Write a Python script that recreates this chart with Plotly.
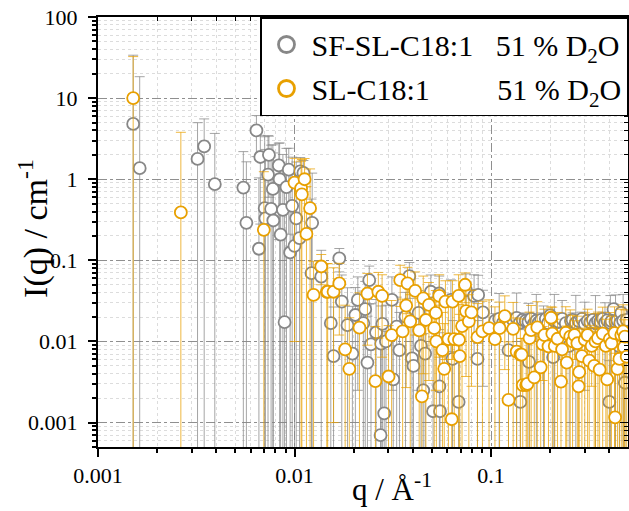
import plotly.graph_objects as go

# ---- data ----
gray_q = [0.00151, 0.00163, 0.00321, 0.00347, 0.00393, 0.00549, 0.00569, 0.0064, 0.00659, 0.0067,
          0.00705, 0.00711, 0.00733, 0.00741, 0.0076, 0.00776, 0.0078, 0.00832, 0.0084, 0.0085,
          0.00873, 0.0089, 0.0091, 0.00935, 0.0095, 0.00973, 0.0100, 0.0102, 0.0106, 0.0107,
          0.0111, 0.0122, 0.0123, 0.01368, 0.0153, 0.0158, 0.0169, 0.0174, 0.0186, 0.0197,
          0.0204, 0.0210, 0.0224, 0.0229, 0.0235, 0.0240, 0.0245, 0.0260, 0.0274, 0.0276,
          0.0280, 0.0286, 0.0292, 0.0313, 0.0318, 0.0331, 0.0342, 0.0367, 0.0384, 0.0396,
          0.0403, 0.0428, 0.0440, 0.0452, 0.0462, 0.0494, 0.0507, 0.0545, 0.0546, 0.0550,
          0.0625, 0.0637, 0.0684, 0.0746, 0.0820, 0.0853, 0.0860, 0.0910,
          0.105, 0.110, 0.115, 0.120, 0.1227, 0.125, 0.130, 0.135, 0.140, 0.141, 0.145, 0.150,
          0.155, 0.156, 0.160, 0.165, 0.170, 0.175, 0.180, 0.185, 0.190, 0.195, 0.200, 0.207,
          0.210, 0.220, 0.230, 0.240, 0.250, 0.255, 0.260, 0.270, 0.280, 0.290, 0.300, 0.310,
          0.320, 0.330, 0.340, 0.350, 0.360, 0.370, 0.380, 0.390, 0.400, 0.405, 0.410, 0.420,
          0.430, 0.440, 0.450, 0.455, 0.460, 0.470, 0.480, 0.490]
gray_I = [4.8, 1.37, 1.78, 2.54, 0.87, 0.79, 0.29, 4.0, 0.139, 1.88,
          0.44, 0.33, 1.14, 2.0, 0.43, 0.76, 0.31, 1.48, 1.0, 0.207,
          0.42, 0.0173, 0.80, 1.31, 0.125, 0.47, 0.151, 0.33, 0.188, 1.25,
          1.2, 0.0695, 0.29, 0.063, 0.0168, 0.0066, 0.106, 0.031, 0.0159, 0.0071,
          0.0212, 0.0325, 0.0168, 0.025, 0.0055, 0.057, 0.0092, 0.0129, 0.0007, 0.0094,
          0.0165, 0.0013, 0.0100, 0.0325, 0.0034, 0.0152, 0.0078, 0.0203, 0.064, 0.0062,
          0.0050, 0.0225, 0.0088, 0.0025, 0.0071, 0.041, 0.00138, 0.039, 0.0028, 0.00138,
          0.0325, 0.0061, 0.0018, 0.043, 0.0364, 0.0061, 0.0375, 0.0228,
          0.018, 0.019, 0.017, 0.0185, 0.0078, 0.0165, 0.018, 0.0195, 0.017, 0.0018, 0.0185, 0.018,
          0.0175, 0.0056, 0.019, 0.0165, 0.018, 0.0172, 0.0185, 0.0134, 0.019, 0.0168, 0.021, 0.0064,
          0.018, 0.0175, 0.019, 0.0168, 0.0088, 0.018, 0.0185, 0.017, 0.0178, 0.019, 0.0165, 0.018,
          0.0172, 0.0185, 0.0168, 0.018, 0.0175, 0.019, 0.017, 0.0182, 0.0018, 0.0168, 0.0178, 0.025,
          0.0175, 0.0182, 0.0087, 0.017, 0.0225, 0.018, 0.0031, 0.0185]
gray_err = [29, 17, 3.2, 3.0, 2.8, 1.4, 1.35, 2.1, 0.9, 1.6,
            2.9, 2.0, 2.3, 1.4, 2.2, 1.9, 1.8, 1.3, 1.8, 1.2,
            1.6, 0.9, 1.6, 1.1, 1.2, 1.4, 1.0, 1.3, 1.1, 0.6,
            0.5, 0.5, 0.9, 0.07, 0.03, 0.02, 0.034, 0.035, 0.03, 0.02,
            0.025, 0.03, 0.025, 0.03, 0.015, 0.028, 0.02, 0.02, 0.01, 0.018,
            0.02, 0.012, 0.018, 0.03, 0.012, 0.02, 0.015, 0.02, 0.03, 0.014,
            0.014, 0.02, 0.015, 0.01, 0.014, 0.025, 0.01, 0.025, 0.01, 0.01,
            0.025, 0.012, 0.01, 0.025, 0.03, 0.012, 0.028, 0.02,
            0.004, 0.02, 0.003, 0.004, 0.01, 0.003, 0.004, 0.02, 0.003, 0.006, 0.004, 0.003,
            0.012, 0.008, 0.003, 0.004, 0.02, 0.003, 0.004, 0.014, 0.003, 0.004, 0.004, 0.008,
            0.02, 0.003, 0.013, 0.004, 0.01, 0.003, 0.004, 0.02, 0.003, 0.004, 0.014, 0.003,
            0.004, 0.003, 0.02, 0.004, 0.003, 0.004, 0.013, 0.003, 0.004, 0.02, 0.003, 0.004,
            0.02, 0.003, 0.01, 0.004, 0.004, 0.02, 0.005, 0.003]

orange_q = [0.00151, 0.00264, 0.00698, 0.0100, 0.0108, 0.0109, 0.01125, 0.0115, 0.0120, 0.0125,
            0.01368, 0.0146, 0.01475, 0.0158, 0.0169, 0.0181, 0.0190, 0.0214, 0.0235, 0.0258,
            0.0267, 0.0279, 0.0301, 0.0312, 0.0345, 0.0355, 0.0370, 0.0376, 0.0388, 0.0411,
            0.0431, 0.0445, 0.0452, 0.0466, 0.0483, 0.0514, 0.0524, 0.0527, 0.0545, 0.0566,
            0.0578, 0.0586, 0.0607, 0.0631, 0.0637, 0.0650, 0.0684, 0.0687, 0.0693, 0.0712,
            0.0738, 0.0746, 0.0771, 0.0795, 0.0853, 0.0904, 0.0977, 0.1047, 0.1105, 0.1175,
            0.1227, 0.1296, 0.135, 0.141, 0.143, 0.145, 0.151, 0.153, 0.157, 0.160,
            0.166, 0.172, 0.179, 0.183, 0.187, 0.196, 0.202, 0.205, 0.211, 0.218,
            0.227, 0.230, 0.240, 0.243, 0.253, 0.260, 0.266, 0.275, 0.279, 0.281,
            0.290, 0.300, 0.310, 0.316, 0.325, 0.335, 0.340, 0.350, 0.357, 0.370,
            0.384, 0.390, 0.402, 0.410, 0.425, 0.428, 0.440, 0.450, 0.460, 0.470,
            0.475, 0.480, 0.490]
orange_I = [10.0, 0.39, 0.238, 0.91, 0.77, 0.65, 1.0, 0.212, 0.44, 0.0375,
            0.084, 0.041, 0.041, 0.041, 0.052, 0.008, 0.0046, 0.0148, 0.039, 0.00325,
            0.041, 0.0364, 0.0037, 0.012, 0.057, 0.0133, 0.0277, 0.052, 0.0177, 0.042,
            0.0137, 0.0021, 0.034, 0.0184, 0.0283, 0.0146, 0.0225, 0.010, 0.0364, 0.0078,
            0.0046, 0.031, 0.0107, 0.0011, 0.031, 0.0107, 0.0364, 0.0105, 0.0066, 0.0155,
            0.050, 0.0237, 0.0177, 0.0228, 0.0113, 0.0133, 0.0146, 0.0107, 0.0146, 0.0205,
            0.0019, 0.0143, 0.0075, 0.0069, 0.0069, 0.0029, 0.0029, 0.0030, 0.011, 0.0138,
            0.0036, 0.0149, 0.0048, 0.0093, 0.012, 0.0087, 0.0196, 0.0125, 0.0088, 0.0108,
            0.0032, 0.0080, 0.0128, 0.0055, 0.0115, 0.0100, 0.012, 0.0095, 0.0028, 0.0042,
            0.0066, 0.0105, 0.012, 0.0058, 0.0088, 0.0050, 0.010, 0.011, 0.0045, 0.0125,
            0.0088, 0.0034, 0.0107, 0.0095, 0.0127, 0.00116, 0.0046, 0.0061, 0.012, 0.0133,
            0.0085, 0.0115, 0.0065]
orange_err = [22.5, 3.4, 1.0, 0.9, 0.9, 1.1, 0.8, 0.6, 0.9, 0.06,
              0.034, 0.05, 0.05, 0.04, 0.04, 0.02, 0.015, 0.025, 0.03, 0.012,
              0.03, 0.03, 0.012, 0.02, 0.03, 0.02, 0.025, 0.03, 0.02, 0.03,
              0.02, 0.01, 0.03, 0.02, 0.025, 0.02, 0.02, 0.018, 0.03, 0.015,
              0.012, 0.025, 0.018, 0.008, 0.025, 0.018, 0.03, 0.018, 0.015, 0.02,
              0.02, 0.02, 0.02, 0.02, 0.018, 0.018, 0.018, 0.016, 0.016, 0.016,
              0.008, 0.016, 0.012, 0.012, 0.004, 0.008, 0.008, 0.008, 0.012, 0.014,
              0.008, 0.016, 0.01, 0.006, 0.013, 0.01, 0.007, 0.014, 0.01, 0.012,
              0.008, 0.005, 0.014, 0.01, 0.013, 0.011, 0.006, 0.011, 0.008, 0.01,
              0.008, 0.012, 0.013, 0.01, 0.006, 0.01, 0.012, 0.012, 0.01, 0.014,
              0.01, 0.01, 0.012, 0.011, 0.014, 0.006, 0.01, 0.008, 0.013, 0.015,
              0.01, 0.013, 0.008]

NB = "\u00a0"
series_names = ["SF-SL-C18:1" + NB * 3 + "51 % D<sub>2</sub>O",
                "SL-C18:1" + NB * 9 + "51 % D<sub>2</sub>O"]
x_title = "q / Å<sup>-1</sup>"
y_title = "I(q) / cm<sup>-1</sup>"
x_tick_vals = [0.001, 0.01, 0.1]
x_tick_text = ["0.001", "0.01", "0.1"]
y_tick_vals = [0.001, 0.01, 0.1, 1, 10, 100]
y_tick_text = ["0.001", "0.01", "0.1", "1", "10", "100"]

GRAY = "#878787"
ORANGE = "#E8A000"
FONT = "Liberation Serif"

fig = go.Figure()

fig.add_trace(go.Scatter(
    x=gray_q, y=gray_I, mode="markers", showlegend=False,
    marker=dict(symbol="circle", size=12, color="white", line=dict(color=GRAY, width=1.8)),
    error_y=dict(type="data", array=gray_err, visible=True, color="rgba(135,135,135,0.75)",
                 thickness=1, width=5),
))
fig.add_trace(go.Scatter(
    x=orange_q, y=orange_I, mode="markers", showlegend=False,
    marker=dict(symbol="circle", size=12, color="white", line=dict(color=ORANGE, width=1.8)),
    error_y=dict(type="data", array=orange_err, visible=True, color="rgba(232,160,0,0.75)",
                 thickness=1, width=5),
))
# legend entries
fig.add_trace(go.Scatter(x=[None], y=[None], mode="markers", name=series_names[0],
                         legendgroup="a",
                         marker=dict(symbol="circle", size=16, color="white",
                                     line=dict(color=GRAY, width=2.8))))
fig.add_trace(go.Scatter(x=[None], y=[None], mode="markers", name=series_names[1],
                         legendgroup="b",
                         marker=dict(symbol="circle", size=16, color="white",
                                     line=dict(color=ORANGE, width=2.8))))
# mirrored axes (ticks inside on top/right)
fig.add_trace(go.Scatter(x=[None], y=[None], xaxis="x2", yaxis="y2", showlegend=False,
                         hoverinfo="skip"))

xr = [-3, -0.303]
yr = [-3.301, 2]

common = dict(type="log", showline=True, linecolor="black", linewidth=2, automargin=False,
              ticks="outside", ticklen=8, tickwidth=1.5, tickcolor="black",
              tickfont=dict(family=FONT, size=22, color="black"),
              showgrid=True, gridcolor="#8f8f8f", gridwidth=1, griddash="dashdot",
              zeroline=False)

fig.update_layout(
    template="none",
    width=629, height=511,
    margin=dict(l=98, r=1, t=17, b=64),
    paper_bgcolor="white", plot_bgcolor="white",
    font=dict(family=FONT, color="black"),
    xaxis=dict(range=xr, tickmode="array", tickvals=x_tick_vals, ticktext=x_tick_text,
               minor=dict(dtick="D1", ticks="outside", ticklen=4, tickcolor="black",
                          showgrid=True, gridcolor="#dcdcdc", griddash="dot"),
               **common),
    yaxis=dict(range=yr, tickmode="array", tickvals=y_tick_vals, ticktext=y_tick_text,
               ticklabelstandoff=6,
               minor=dict(dtick="D1", ticks="outside", ticklen=4, tickcolor="black",
                          showgrid=True, gridcolor="#dcdcdc", griddash="dot"),
               **common),
    xaxis2=dict(type="log", range=xr, overlaying="x", side="top", showline=True, automargin=False,
                linecolor="black", linewidth=2, ticks="inside", ticklen=8, tickcolor="black",
                tickmode="array", tickvals=x_tick_vals, showticklabels=False, showgrid=False,
                zeroline=False,
                minor=dict(dtick="D1", ticks="inside", ticklen=4, tickcolor="black", showgrid=False)),
    yaxis2=dict(type="log", range=yr, overlaying="y", side="right", showline=True, automargin=False,
                linecolor="black", linewidth=2, ticks="inside", ticklen=8, tickcolor="black",
                tickmode="array", tickvals=y_tick_vals, showticklabels=False, showgrid=False,
                zeroline=False,
                minor=dict(dtick="D1", ticks="inside", ticklen=4, tickcolor="black", showgrid=False)),
    legend=dict(x=1, y=1, xanchor="right", yanchor="top", bgcolor="white",
                bordercolor="black", borderwidth=1.5,
                font=dict(family=FONT, size=30, color="black"),
                itemsizing="trace", itemwidth=40, tracegroupgap=2),
    showlegend=True,
    annotations=[
        dict(text=x_title, xref="paper", yref="paper", x=0.555, y=-0.095,
             xanchor="center", yanchor="middle", showarrow=False,
             font=dict(family=FONT, size=31, color="black")),
        dict(text=y_title, xref="paper", yref="paper", x=-0.123, y=0.509, textangle=-90,
             xanchor="center", yanchor="middle", showarrow=False,
             font=dict(family=FONT, size=34, color="black")),
    ],
)

fig.write_html("out.html", config={"displayModeBar": False},
               post_script="document.body.style.margin='0';document.body.style.overflow='hidden';")
